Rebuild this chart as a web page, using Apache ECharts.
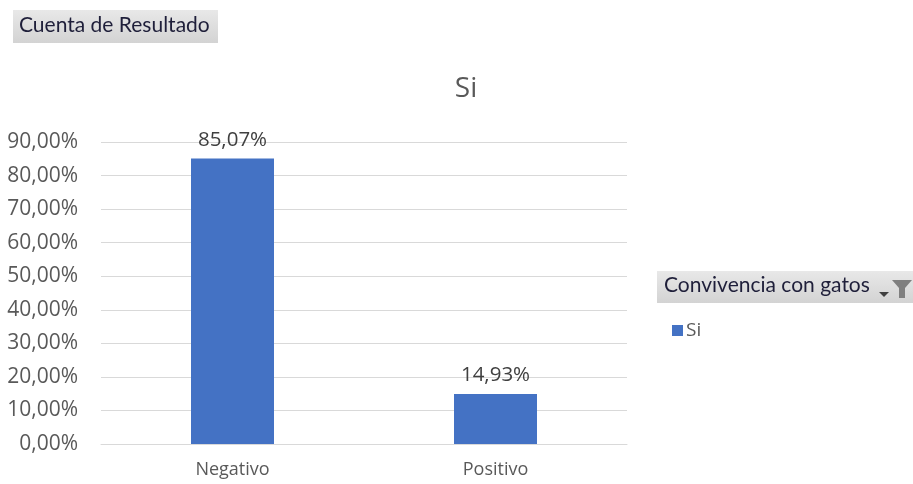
<!DOCTYPE html>
<html>
<head>
<meta charset="utf-8">
<script src="https://cdn.jsdelivr.net/npm/echarts@6/dist/echarts.min.js"></script>
<style>
  html, body { margin: 0; padding: 0; background: #fff; }
  #chart { width: 913px; height: 484px; }
</style>
</head>
<body>
<div id="chart"></div>
<script>
// Share of results by category, cat cohabitation = "Si"
const categories = ['Negativo', 'Positivo'];
const siValues = [85.07, 14.93];
const seriesName = 'Si';
const fieldButton = 'Cuenta de Resultado';
const legendHeader = 'Convivencia con gatos';

const bodyFont = '"Open Sans", "Noto Sans", sans-serif';
const headerFont = 'Lato, "Open Sans", sans-serif';
const pct = v => v.toFixed(2).replace('.', ',') + '%';

const headerFill = () => new echarts.graphic.LinearGradient(0, 0, 0, 1, [
  { offset: 0, color: '#e8e8e8' }, { offset: 1, color: '#d3d3d3' }
]);

const chart = echarts.init(document.getElementById('chart'));
chart.setOption({
  animation: false,
  backgroundColor: '#ffffff',
  textStyle: { fontFamily: bodyFont },
  title: {
    text: seriesName,
    left: 461, top: 70, textAlign: 'center',
    textStyle: { fontSize: 28, fontWeight: 'normal', color: '#595959', fontFamily: bodyFont }
  },
  grid: { left: 101, right: 286, top: 142, bottom: 40 },
  legend: {
    data: [seriesName],
    left: 667, top: 316,
    itemWidth: 11, itemHeight: 11, itemGap: 6,
    icon: 'rect',
    textStyle: { fontSize: 19, color: '#595959', fontFamily: bodyFont, padding: [0, 0, 0, -2] }
  },
  xAxis: {
    type: 'category',
    data: categories,
    axisLine: { lineStyle: { color: '#d9d9d9' } },
    axisTick: { show: false },
    axisLabel: { fontSize: 18, color: '#595959', margin: 17 }
  },
  yAxis: {
    type: 'value',
    min: 0, max: 90, interval: 10,
    axisLine: { show: false },
    axisTick: { show: false },
    splitLine: { lineStyle: { color: '#d9d9d9', width: 1 } },
    axisLabel: { fontSize: 21, color: '#595959', margin: 23, formatter: v => pct(v) }
  },
  series: [{
    name: seriesName,
    type: 'bar',
    data: siValues,
    barWidth: 83,
    itemStyle: { color: '#4472c4' },
    label: {
      show: true, position: 'top', distance: 8,
      fontSize: 20.5, color: '#404040',
      formatter: p => pct(p.value)
    }
  }],
  graphic: [
    // Pivot field button
    {
      type: 'rect', left: 13, top: 10,
      shape: { width: 205, height: 33 },
      style: { fill: headerFill() }
    },
    {
      type: 'text', left: 19, top: 15,
      style: { text: fieldButton, fontSize: 21, fill: '#1f1f3a', fontFamily: headerFont }
    },
    // Legend field header with filter control
    {
      type: 'rect', left: 657, top: 271,
      shape: { width: 256, height: 32 },
      style: { fill: headerFill() }
    },
    {
      type: 'text', left: 664, top: 275,
      style: { text: legendHeader, fontSize: 21, fill: '#1f1f3a', fontFamily: headerFont }
    },
    {
      type: 'polygon',
      shape: { points: [[879, 292], [889, 292], [884, 297]] },
      style: { fill: '#404040' }
    },
    {
      type: 'polygon',
      shape: { points: [[892, 280], [912, 280], [905, 288], [905, 298], [899, 298], [899, 288]] },
      style: { fill: '#7f7f7f' }
    }
  ]
});
</script>
</body>
</html>
